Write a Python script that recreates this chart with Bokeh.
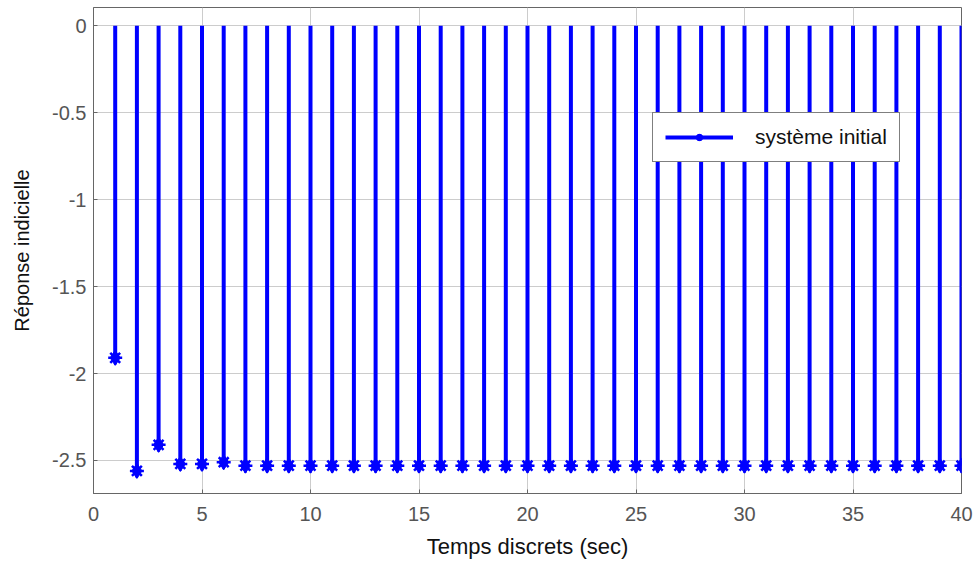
from bokeh.plotting import figure
from bokeh.models import Range1d, FixedTicker, Legend, LegendItem
from bokeh.embed import file_html
from bokeh.resources import INLINE

# Discrete-time step response of the initial system
k = list(range(1, 41))
response = [-1.91, -2.56, -2.41, -2.52, -2.52, -2.51, -2.53, -2.53, -2.53, -2.53,
            -2.53, -2.53, -2.53, -2.53, -2.53, -2.53, -2.53, -2.53, -2.53, -2.53,
            -2.53, -2.53, -2.53, -2.53, -2.53, -2.53, -2.53, -2.53, -2.53, -2.53,
            -2.53, -2.53, -2.53, -2.53, -2.53, -2.53, -2.53, -2.53, -2.53, -2.53]
baseline = [0.0] * len(k)
x_ticks = [0, 5, 10, 15, 20, 25, 30, 35, 40]
y_ticks = [-2.5, -2.0, -1.5, -1.0, -0.5, 0.0]
series_name = "système initial"

FONT = "Liberation Sans"
BLUE = "#0000ff"
GREY = "#555555"

p = figure(width=979, height=565, output_backend="svg", toolbar_location=None,
           x_range=Range1d(0, 40), y_range=Range1d(-2.69, 0.105),
           min_border_left=93, min_border_right=18, min_border_top=7,
           min_border_bottom=72)

p.background_fill_color = "white"
p.border_fill_color = "white"
p.outline_line_color = "#666666"
p.outline_line_width = 1

stems = p.segment(x0=k, y0=baseline, x1=k, y1=response, line_color=BLUE, line_width=4)
heads = p.scatter(x=k, y=response, marker="diamond", size=15, fill_color=BLUE,
                  line_color=BLUE, line_width=1)
stars = p.scatter(x=k, y=response, marker="asterisk", size=14, line_color=BLUE,
                  line_width=2.5)

for ax, ticks in ((p.xaxis[0], x_ticks), (p.yaxis[0], y_ticks)):
    ax.ticker = FixedTicker(ticks=ticks)
    ax.axis_line_color = "#666666"
    ax.major_tick_line_color = "#666666"
    ax.major_tick_in = 4
    ax.major_tick_out = 0
    ax.minor_tick_line_color = None
    ax.major_label_text_font = FONT
    ax.major_label_text_font_size = "20px"
    ax.major_label_text_color = GREY
    ax.axis_label_text_font = FONT
    ax.axis_label_text_font_style = "normal"
    ax.axis_label_text_color = "#111111"

p.xaxis.major_label_overrides = {t: str(t) for t in x_ticks}
p.yaxis.major_label_overrides = {t: ("0" if t == 0 else f"{t:g}") for t in y_ticks}
p.xaxis.major_label_standoff = 13
p.yaxis.major_label_standoff = 7
p.xaxis.axis_label = "Temps discrets (sec)"
p.yaxis.axis_label = "Réponse indicielle"
p.xaxis.axis_label_text_font_size = "22px"
p.yaxis.axis_label_text_font_size = "20px"
p.xaxis.axis_label_standoff = 10
p.yaxis.axis_label_standoff = 16

p.xgrid.grid_line_color = "#cccccc"
p.ygrid.grid_line_color = "#cccccc"
p.xgrid.grid_line_width = 1
p.ygrid.grid_line_width = 1

legend = Legend(items=[LegendItem(label=series_name, renderers=[stems, heads, stars])],
                location=(559, 331))
legend.label_text_font = FONT
legend.label_text_font_size = "21px"
legend.label_text_color = "#111111"
legend.glyph_width = 68
legend.glyph_height = 18
legend.label_height = 18
legend.label_standoff = 22
legend.padding = 12
legend.margin = 0
legend.spacing = 0
legend.border_line_color = "black"
legend.border_line_width = 1
legend.background_fill_color = "white"
legend.background_fill_alpha = 1.0
p.add_layout(legend, "center")

open("out.html", "w").write(file_html(p, INLINE))
